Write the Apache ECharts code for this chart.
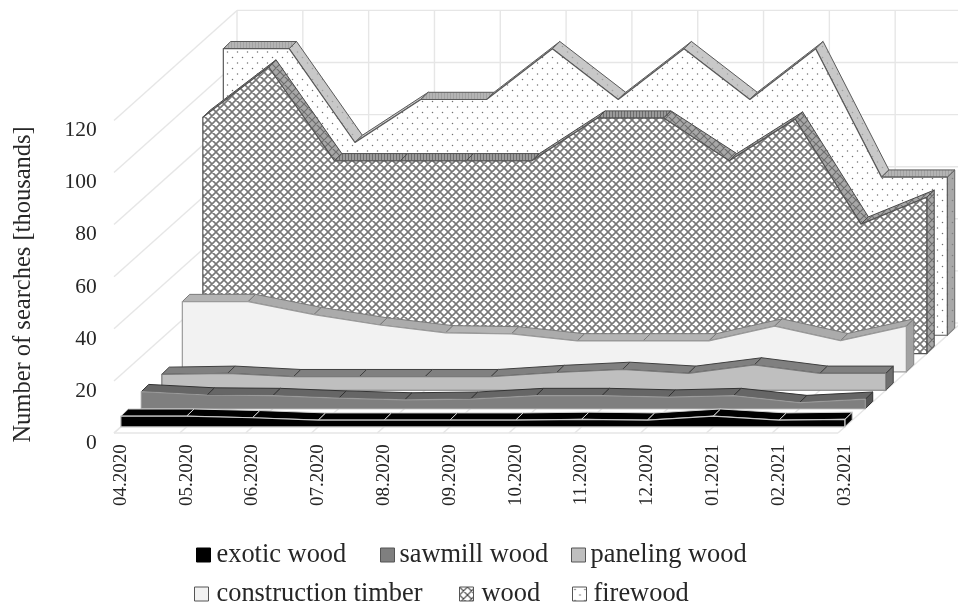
<!DOCTYPE html>
<html>
<head>
<meta charset="utf-8">
<style>html,body{margin:0;padding:0;background:#fff}#c{width:958px;height:605px}</style>
<script src="https://cdn.jsdelivr.net/npm/echarts@6/dist/echarts.min.js"></script>
</head>
<body>
<div id="c"></div>
<script>
const months = ['04.2020','05.2020','06.2020','07.2020','08.2020','09.2020','10.2020','11.2020','12.2020','01.2021','02.2021','03.2021'];
const yTicks = [0,20,40,60,80,100,120];
const exoticWood = [4.1,4.1,3.5,2.6,2.6,2.6,2.6,2.9,2.6,4.1,2.6,2.9];
const sawmillWood = [6.5,5.2,5,4,3.3,3.6,5,5,4.4,5,2.3,3.6];
const panelingWood = [6.1,6.5,5.2,5.2,5.2,5.2,6.8,8,6.5,9.7,6.5,6.5];
const constructionTimber = [27,27,22,18,15,14.6,11.9,11.9,11.9,17.6,12,17.6];
const wood = [90.7,110,74,74,74,74,90.4,90.4,74,90,49.7,60];
const firewood = [110,110,74,90.5,90.5,110,90.5,110,90.5,110,60.7,60.7];

// Oblique projection of the chart's depth axis onto the page
const OX = -6.7, OY = -10.2, DX = 20.5, DY = 18.33, SLOTS = 6, FRONT = 1/3, THICK_X = 7.4/20.5, THICK_Y = 7.2/18.33;
const FONT = '"Liberation Serif","Times New Roman",serif';
const TXT = '#262626';

function tile(w, h, draw) {
  const c = document.createElement('canvas'); c.width = w; c.height = h;
  const g = c.getContext('2d'); draw(g, w, h);
  return {image: c, repeat: 'repeat'};
}
function hatch(bg, line, lw) {
  return tile(8, 8, (g, w, h) => {
    g.fillStyle = bg; g.fillRect(0, 0, w, h);
    g.strokeStyle = line; g.lineWidth = lw;
    g.beginPath();
    g.moveTo(-1, -1); g.lineTo(9, 9); g.moveTo(-5, 3); g.lineTo(5, 13); g.moveTo(3, -5); g.lineTo(13, 5);
    g.moveTo(9, -1); g.lineTo(-1, 9); g.moveTo(5, -5); g.lineTo(-5, 5); g.moveTo(13, 3); g.lineTo(3, 13);
    g.stroke();
  });
}
function dots(bg, col, r) {
  return tile(10, 11, (g, w, h) => {
    g.fillStyle = bg; g.fillRect(0, 0, w, h);
    g.fillStyle = col;
    [[2.5, 2.5], [7.5, 8]].forEach(p => { g.beginPath(); g.arc(p[0], p[1], r, 0, 7); g.fill(); });
  });
}
function stripes(a, b) {
  return tile(3, 3, (g, w, h) => {
    g.fillStyle = a; g.fillRect(0, 0, w, h);
    g.fillStyle = b; g.fillRect(0, 0, 1, h);
  });
}
const woodFront = hatch('#ffffff', '#777777', 1.6);
const woodTop = hatch('#a8a8a8', '#6e6e6e', 1.2);
const fireFront = dots('#ffffff', '#707070', 0.75);
const fireTop = dots('#c8c8c8', '#a0a0a0', 0.8);
const fireSide = dots('#a8a8a8', '#808080', 0.8);

const layers = [
  {name:'firewood', values:firewood, slot:5, front:fireFront, top:fireTop, flat:stripes('#b4b4b4','#a2a2a2'), side:fireSide, edge:'#666666', frontEdge:'#5a5a5a', topEdge:'#5a5a5a', legend:dots('#ffffff','#666666',0.8), lg:{left:572, top:581, pad:2}},
  {name:'wood', values:wood, slot:4, front:woodFront, top:woodTop, flat:stripes('#9a9a9a','#6c6c6c'), side:woodTop, edge:'#4a4a4a', frontEdge:'#555555', topEdge:'#4a4a4a', legend:hatch('#ffffff','#444444',1.2), lg:{left:459, top:581, pad:3}},
  {name:'construction timber', values:constructionTimber, slot:3, front:'#f2f2f2', top:'#ababab', flat:'#b4b4b4', side:'#a2a2a2', edge:'#7f7f7f', frontEdge:'#9a9a9a', topEdge:'#7a7a7a', legend:'#f2f2f2', lg:{left:194, top:581, pad:3}},
  {name:'paneling wood', values:panelingWood, slot:2, front:'#bfbfbf', top:'#808080', flat:'#808080', side:'#6f6f6f', edge:'#404040', frontEdge:'#7a7a7a', topEdge:'#404040', legend:'#bfbfbf', lg:{left:571, top:542, pad:0}},
  {name:'sawmill wood', values:sawmillWood, slot:1, front:'#7f7f7f', top:'#666666', flat:'#666666', side:'#555555', edge:'#333333', frontEdge:'#9a9a9a', topEdge:'#333333', legend:'#7f7f7f', lg:{left:380, top:542, pad:0}},
  {name:'exotic wood', values:exoticWood, slot:0, front:'#000000', top:'#000000', flat:'#000000', side:'#000000', edge:'#cfcfcf', frontEdge:'#c8c8c8', topEdge:'#d0d0d0', legend:'#000000', lg:{left:196, top:542, pad:1}}
];

function project(api, i, v, dx, dy) {
  const c = api.coord([i, v]);
  return [c[0] + OX + DX * dx, c[1] + OY - DY * (dy === undefined ? dx : dy)];
}
function poly(points, fill, stroke, lw) {
  return {type:'polygon', shape:{points}, style:{fill, stroke, lineWidth:lw, lineJoin:'round'}};
}
function line(a, b) {
  return {type:'line', shape:{x1:a[0], y1:a[1], x2:b[0], y2:b[1]}, style:{stroke:'#e6e6e6', lineWidth:1.4}};
}
function renderWalls(params, api) {
  if (params.dataIndex !== 0) return null;
  const kids = [];
  const last = months.length - 1, top = yTicks[yTicks.length - 1];
  yTicks.forEach(t => {
    kids.push(line(project(api, 0, t, 0), project(api, 0, t, SLOTS)));
    kids.push(line(project(api, 0, t, SLOTS), project(api, last, t, SLOTS)));
  });
  months.forEach((m, i) => {
    kids.push(line(project(api, i, 0, 0), project(api, i, 0, SLOTS)));
    kids.push(line(project(api, i, 0, SLOTS), project(api, i, top, SLOTS)));
  });
  kids.push(line(project(api, 0, 0, 0), project(api, last, 0, 0)));
  return {type:'group', children:kids};
}
function renderLayer(layer) {
  return function (params, api) {
    if (params.dataIndex !== 0) return null;
    const vals = layer.values, n = vals.length, d0 = layer.slot + FRONT, bx = d0 + THICK_X, by = d0 + THICK_Y;
    const kids = [];
    // right end face
    kids.push(poly([project(api,n-1,vals[n-1],d0), project(api,n-1,vals[n-1],bx,by), project(api,n-1,0,bx,by), project(api,n-1,0,d0)], layer.side, layer.edge, 1));
    // top ribbons
    for (let i = 0; i < n - 1; i++) {
      const fill = Math.abs(vals[i] - vals[i+1]) < 0.5 ? layer.flat : layer.top;
      kids.push(poly([project(api,i,vals[i],d0), project(api,i+1,vals[i+1],d0), project(api,i+1,vals[i+1],bx,by), project(api,i,vals[i],bx,by)], fill, layer.topEdge, 1));
    }
    // front face
    const pts = [project(api,0,0,d0)];
    vals.forEach((v, i) => pts.push(project(api,i,v,d0)));
    pts.push(project(api,n-1,0,d0));
    kids.push(poly(pts, layer.front, layer.frontEdge, 1.2));
    return {type:'group', children:kids};
  };
}

const series = [{
  type:'custom', name:'walls', silent:true, clip:false,
  encode:{x:0, y:1}, data:months.map((m, i) => [i, 0]), renderItem:renderWalls, animation:false
}].concat(layers.map(l => ({
  type:'custom', name:l.name, clip:false, encode:{x:0, y:1},
  data:l.values.map((v, i) => [i, v]), renderItem:renderLayer(l), animation:false,
  itemStyle:{color:l.front}
})));

const legends = layers.map(l => ({
  orient:'horizontal', padding:0, itemWidth:14, itemHeight:14, selectedMode:false,
  left:l.lg.left, top:l.lg.top,
  textStyle:{fontFamily:FONT, fontSize:26.4, color:TXT, padding:[0,0,0,l.lg.pad]},
  data:[{name:l.name, icon:'rect', itemStyle:{color:l.legend, borderColor:l.name==='exotic wood'?'#000':'#555', borderWidth:1}}]
}));

const chart = echarts.init(document.getElementById('c'), null, {renderer:'canvas'});
chart.setOption({
  animation:false,
  backgroundColor:'#ffffff',
  grid:{left:120.7, top:130.6, width:724, height:312.6, containLabel:false},
  xAxis:{type:'category', data:months, boundaryGap:false,
    axisLine:{show:false}, axisTick:{show:false}, splitLine:{show:false},
    axisLabel:{rotate:90, interval:0, margin:1, fontFamily:FONT, fontSize:19, color:TXT}},
  yAxis:{type:'value', min:0, max:120, interval:20,
    axisLine:{show:false}, axisTick:{show:false}, splitLine:{show:false},
    axisLabel:{margin:24, fontFamily:FONT, fontSize:21.5, color:TXT},
    name:'Number of searches [thousands]', nameLocation:'middle', nameGap:85, nameRotate:90,
    nameTextStyle:{fontFamily:FONT, fontSize:24.5, color:TXT, padding:[0,0,0,5]}},
  legend:legends,
  series
});
</script>
</body>
</html>
